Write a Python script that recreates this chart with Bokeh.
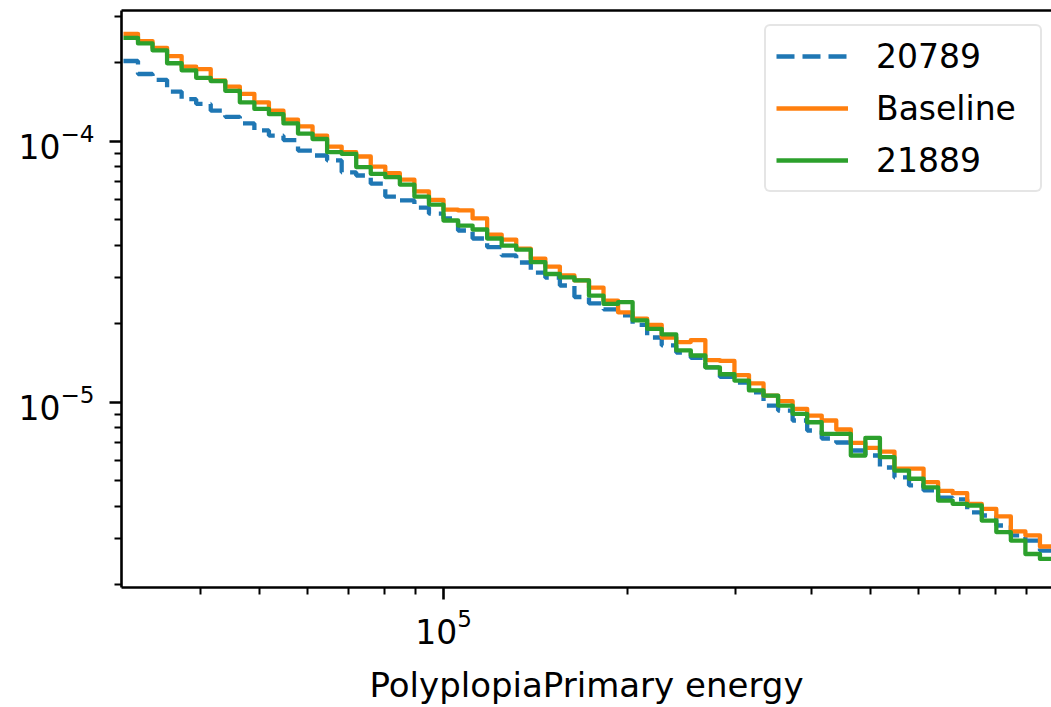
import numpy as np
from bokeh.plotting import figure
from bokeh.models import Range1d, FixedTicker, LogTickFormatter, LinearAxis
from bokeh.embed import file_html
from bokeh.resources import INLINE

# Histogram bin edges (regular log bins, 42 per decade)
edges = np.logspace(5 - 22 / 42, 6, 65)

series_labels = ["20789", "Baseline", "21889"]

vals_20789 = [2.03e-4, 1.81e-4, 1.72e-4, 1.55e-4, 1.45e-4, 1.39e-4, 1.31e-4, 1.24e-4, 1.17e-4, 1.10e-4,
              1.05e-4, 1.01e-4, 9.21e-5, 8.82e-5, 8.44e-5, 7.60e-5, 7.39e-5, 6.88e-5, 6.14e-5, 5.93e-5,
              5.57e-5, 5.28e-5, 5.06e-5, 4.55e-5, 4.24e-5, 3.93e-5, 3.65e-5, 3.43e-5, 3.14e-5, 3.00e-5,
              2.80e-5, 2.53e-5, 2.39e-5, 2.27e-5, 2.15e-5, 1.98e-5, 1.77e-5, 1.65e-5, 1.55e-5, 1.48e-5,
              1.36e-5, 1.25e-5, 1.19e-5, 1.09e-5, 9.71e-6, 9.29e-6, 8.51e-6, 7.79e-6, 7.26e-6, 7.01e-6,
              6.53e-6, 6.25e-6, 5.62e-6, 5.15e-6, 4.80e-6, 4.59e-6, 4.31e-6, 4.24e-6, 3.78e-6, 3.68e-6,
              3.37e-6, 3.09e-6, 2.95e-6, 2.70e-6]

vals_baseline = [2.58e-4, 2.42e-4, 2.28e-4, 2.12e-4, 1.93e-4, 1.89e-4, 1.71e-4, 1.62e-4, 1.52e-4, 1.41e-4,
                 1.31e-4, 1.21e-4, 1.14e-4, 1.05e-4, 9.54e-5, 9.08e-5, 8.74e-5, 8.00e-5, 7.54e-5, 7.13e-5,
                 6.42e-5, 5.96e-5, 5.47e-5, 5.43e-5, 5.06e-5, 4.39e-5, 4.20e-5, 3.88e-5, 3.55e-5, 3.31e-5,
                 3.06e-5, 2.93e-5, 2.75e-5, 2.45e-5, 2.21e-5, 2.09e-5, 1.98e-5, 1.77e-5, 1.70e-5, 1.73e-5,
                 1.45e-5, 1.44e-5, 1.27e-5, 1.18e-5, 1.06e-5, 1.01e-5, 9.43e-6, 8.89e-6, 8.51e-6, 7.86e-6,
                 6.98e-6, 6.68e-6, 6.47e-6, 5.57e-6, 5.57e-6, 4.94e-6, 4.57e-6, 4.48e-6, 4.08e-6, 3.90e-6,
                 3.65e-6, 3.20e-6, 3.09e-6, 2.80e-6]

vals_21889 = [2.49e-4, 2.37e-4, 2.23e-4, 1.99e-4, 1.87e-4, 1.75e-4, 1.70e-4, 1.56e-4, 1.41e-4, 1.33e-4,
              1.27e-4, 1.17e-4, 1.07e-4, 1.02e-4, 9.08e-5, 8.95e-5, 7.96e-5, 7.50e-5, 7.28e-5, 6.82e-5,
              6.14e-5, 5.72e-5, 4.97e-5, 4.75e-5, 4.59e-5, 4.24e-5, 3.98e-5, 3.84e-5, 3.44e-5, 3.10e-5,
              3.01e-5, 2.93e-5, 2.56e-5, 2.38e-5, 2.42e-5, 2.06e-5, 1.91e-5, 1.82e-5, 1.58e-5, 1.51e-5,
              1.36e-5, 1.28e-5, 1.21e-5, 1.11e-5, 1.06e-5, 9.71e-6, 9.03e-6, 8.38e-6, 7.56e-6, 7.56e-6,
              6.25e-6, 7.30e-6, 6.16e-6, 5.47e-6, 5.09e-6, 4.72e-6, 4.20e-6, 4.08e-6, 4.02e-6, 3.52e-6,
              3.18e-6, 2.95e-6, 2.62e-6, 2.51e-6]

x_major_ticks = [1e5]
x_minor_ticks = [4e4, 5e4, 6e4, 7e4, 8e4, 9e4, 2e5, 3e5, 4e5, 5e5, 6e5, 7e5, 8e5, 9e5]
y_major_ticks = [1e-5, 1e-4]
y_minor_ticks = [2e-6, 3e-6, 4e-6, 5e-6, 6e-6, 7e-6, 8e-6, 9e-6,
                 2e-5, 3e-5, 4e-5, 5e-5, 6e-5, 7e-5, 8e-5, 9e-5, 2e-4, 3e-4]

x_lim = (10 ** 4.473, 10 ** 5.9951)
y_lim = (10 ** -5.71, 10 ** -3.499)

FONT = "DejaVu Sans"

p = figure(width=1051, height=707, x_axis_type="log", y_axis_type="log",
           x_range=Range1d(*x_lim), y_range=Range1d(*y_lim),
           output_backend="svg", toolbar_location=None,
           min_border_left=121, min_border_right=0, min_border_top=10, min_border_bottom=120)
p.outline_line_color = None
p.grid.visible = False
p.background_fill_color = "white"
p.border_fill_color = "white"

def step_y(v):
    return list(v) + [v[-1]]

p.step(edges, step_y(vals_20789), mode="after", line_color="#1f77b4", line_width=4.3,
       line_dash="18 8", legend_label=series_labels[0])
p.step(edges, step_y(vals_baseline), mode="after", line_color="#ff7f0e", line_width=4.3,
       line_join="round", legend_label=series_labels[1])
p.step(edges, step_y(vals_21889), mode="after", line_color="#2ca02c", line_width=4.3,
       line_join="round", legend_label=series_labels[2])

for ax, maj, mnr in ((p.xaxis[0], x_major_ticks, x_minor_ticks), (p.yaxis[0], y_major_ticks, y_minor_ticks)):
    ax.ticker = FixedTicker(ticks=maj, minor_ticks=mnr)
    ax.formatter = LogTickFormatter()
    ax.axis_line_width = 2.6
    ax.axis_line_color = "black"
    ax.major_tick_line_width = 2.6
    ax.minor_tick_line_width = 2
    ax.major_tick_line_color = "black"
    ax.minor_tick_line_color = "black"
    ax.major_tick_in = 0
    ax.minor_tick_in = 0
    ax.major_tick_out = 12
    ax.minor_tick_out = 7
    ax.major_label_text_font = FONT
    ax.major_label_text_font_size = "33px"
    ax.major_label_text_color = "black"

p.yaxis[0].major_label_standoff = 15
p.xaxis[0].major_label_standoff = 8
p.xaxis[0].axis_label = "PolyplopiaPrimary energy"
p.xaxis[0].axis_label_text_font = FONT
p.xaxis[0].axis_label_text_font_size = "34px"
p.xaxis[0].axis_label_text_font_style = "normal"
p.xaxis[0].axis_label_text_color = "black"
p.xaxis[0].axis_label_standoff = 18

top = LinearAxis(ticker=FixedTicker(ticks=[]), major_label_text_font_size="0px",
                 axis_line_width=2.6, axis_line_color="black",
                 major_tick_out=0, major_tick_in=0, minor_tick_out=0, minor_tick_in=0,
                 major_label_standoff=0)
p.add_layout(top, "above")

lg = p.legend[0]
lg.location = (643, 395)
lg.label_text_font = FONT
lg.label_text_font_size = "33px"
lg.label_text_color = "black"
lg.glyph_width = 72
lg.glyph_height = 40
lg.label_height = 40
lg.label_width = 154
lg.label_standoff = 28
lg.padding = 10
lg.spacing = 12
lg.margin = 0
lg.border_line_color = "#cccccc"
lg.border_line_width = 2.5
lg.border_radius = 6
lg.background_fill_color = "white"
lg.background_fill_alpha = 0.8

open("out.html", "w").write(file_html(p, INLINE))
